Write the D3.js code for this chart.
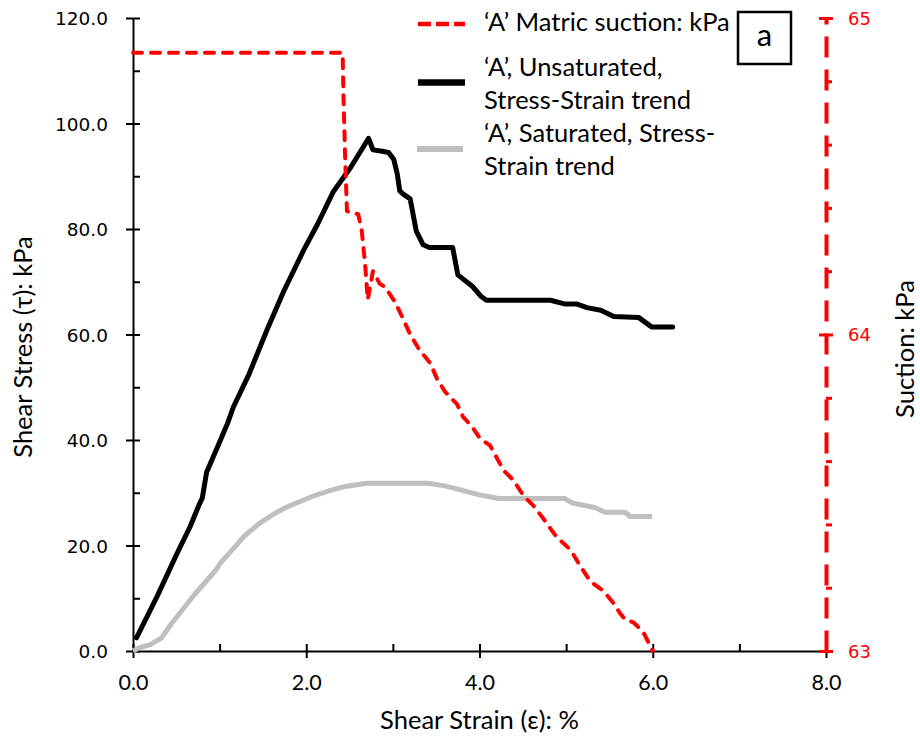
<!DOCTYPE html>
<html>
<head>
<meta charset="utf-8">
<script src="https://cdn.jsdelivr.net/npm/d3@7"></script>
<style>
  html, body { margin: 0; padding: 0; background: #fff; }
  svg { display: block; }
</style>
</head>
<body>
<svg id="chart" width="920" height="745"></svg>
<script>
// ---- Data ----
// Unsaturated stress-strain trend (strain %, shear stress kPa)
const strainUnsat = [0.04, 0.28, 0.50, 0.66, 0.76, 0.80, 0.85, 1.00, 1.09, 1.16, 1.34, 1.55, 1.74, 1.97, 2.13, 2.31, 2.51, 2.72,
  2.77, 2.86, 2.95, 3.01, 3.05, 3.08, 3.12, 3.20, 3.27, 3.35, 3.42, 3.69, 3.75, 3.92, 4.02, 4.08, 4.82, 4.98, 5.12, 5.24, 5.40,
  5.55, 5.84, 5.99, 6.23];
const stressUnsat = [2.5, 10.4, 18.2, 23.6, 27.6, 29.0, 33.9, 39.6, 43.1, 46.3, 52.5, 61.0, 68.2, 76.0, 80.9, 87.0, 91.6, 97.2,
  95.0, 94.8, 94.5, 93.2, 90.5, 87.2, 86.6, 85.7, 79.6, 77.0, 76.5, 76.5, 71.3, 69.1, 67.2, 66.5, 66.5, 65.8, 65.8, 65.1, 64.6,
  63.4, 63.2, 61.4, 61.4];

// Saturated stress-strain trend
const strainSat = [0.00, 0.07, 0.20, 0.33, 0.45, 0.72, 0.96, 1.01, 1.11, 1.28, 1.46, 1.61, 1.75, 1.88, 2.07, 2.27, 2.45, 2.70,
  3.40, 3.60, 3.77, 4.00, 4.22, 4.98, 5.08, 5.33, 5.45, 5.68, 5.74, 5.99];
const stressSat = [0.0, 0.6, 1.2, 2.5, 5.3, 10.9, 15.4, 16.7, 18.5, 21.7, 24.2, 25.8, 27.1, 28.0, 29.3, 30.4, 31.2, 31.8,
  31.8, 31.3, 30.6, 29.6, 28.9, 28.9, 28.0, 27.2, 26.3, 26.3, 25.5, 25.5];

// Matric suction (kPa, right axis)
const strainSuction = [0.00, 2.42, 2.43, 2.45, 2.47, 2.60, 2.64, 2.68, 2.71, 2.77, 2.85, 2.91, 3.03, 3.10, 3.20, 3.31, 3.43,
  3.51, 3.60, 3.74, 3.81, 3.91, 4.01, 4.12, 4.28, 4.39, 4.51, 4.62, 4.76, 4.81, 4.89, 5.05, 5.16, 5.28, 5.43, 5.55, 5.62,
  5.68, 5.78, 5.89, 6.00];
const suction = [64.89, 64.89, 64.75, 64.55, 64.39, 64.38, 64.33, 64.22, 64.11, 64.20, 64.16, 64.15, 64.10, 64.06, 64.00,
  63.95, 63.91, 63.86, 63.82, 63.78, 63.74, 63.71, 63.67, 63.65, 63.57, 63.54, 63.49, 63.46, 63.41, 63.39, 63.36, 63.32,
  63.27, 63.22, 63.19, 63.15, 63.12, 63.10, 63.09, 63.06, 63.00];

// Ticks
const strainTicks = [0, 2, 4, 6, 8];
const strainMinor = [1, 3, 5, 7];
const stressTicks = [0, 20, 40, 60, 80, 100, 120];
const stressMinor = [10, 30, 50, 70, 90, 110];
const suctionTicks = [63, 64, 65];
const suctionMinor = [63.2, 63.4, 63.6, 63.8, 64.2, 64.4, 64.6, 64.8];

// Legend text
const legendLabels = [
  ["‘A’ Matric suction: kPa"],
  ["‘A’, Unsaturated,", "Stress-Strain trend"],
  ["‘A’, Saturated, Stress-", "Strain trend"]
];
const panelLabel = "a";

// ---- Drawing ----
const CAL = "Lato, 'Open Sans', sans-serif";
const VER = "'DejaVu Sans', Verdana, sans-serif";
const RED = "#ff0000", GREY = "#bfbfbf";

const svg = d3.select("#chart");
const x = d3.scaleLinear().domain([0, 8]).range([133, 826]);
const y = d3.scaleLinear().domain([0, 120]).range([651, 18]);
const y2 = d3.scaleLinear().domain([63, 65]).range([651, 18]);

// Bottom axis
const gx = svg.append("g").attr("transform", `translate(0,${y(0)})`)
  .call(d3.axisBottom(x).tickValues(strainTicks).tickSizeInner(7).tickSizeOuter(0).tickFormat(d3.format(".1f")));
gx.select(".domain").attr("stroke", "#000").attr("stroke-width", 2);
gx.selectAll(".tick line").attr("y1", -7).attr("stroke", "#000").attr("stroke-width", 2);
gx.selectAll(".tick text").attr("y", 39).attr("dy", null)
  .attr("font-family", CAL).attr("font-size", 21.5).attr("fill", "#000");
const gxm = svg.append("g").attr("transform", `translate(0,${y(0)})`)
  .call(d3.axisBottom(x).tickValues(strainMinor).tickSizeInner(-7).tickSizeOuter(0).tickFormat(""));
gxm.select(".domain").remove();
gxm.selectAll(".tick line").attr("stroke", "#000").attr("stroke-width", 2);

// Left axis
const gy = svg.append("g").attr("transform", `translate(${x(0)},0)`)
  .call(d3.axisLeft(y).tickValues(stressTicks).tickSizeInner(7).tickSizeOuter(0).tickFormat(d3.format(".1f")));
gy.select(".domain").attr("stroke", "#000").attr("stroke-width", 2);
gy.selectAll(".tick line").attr("x1", 7).attr("stroke", "#000").attr("stroke-width", 2);
gy.selectAll(".tick text").attr("x", -25).attr("dy", "0.36em")
  .attr("font-family", VER).attr("font-size", 18.5).attr("fill", "#000");
const gym = svg.append("g").attr("transform", `translate(${x(0)},0)`)
  .call(d3.axisLeft(y).tickValues(stressMinor).tickSizeInner(-7).tickSizeOuter(0).tickFormat(""));
gym.select(".domain").remove();
gym.selectAll(".tick line").attr("stroke", "#000").attr("stroke-width", 2);

// Right axis (suction)
const gr = svg.append("g").attr("transform", `translate(${x(8)},0)`)
  .call(d3.axisRight(y2).tickValues(suctionTicks).tickSizeInner(7).tickSizeOuter(0).tickFormat(d3.format("d")));
gr.select(".domain").attr("stroke", RED).attr("stroke-width", 4).attr("stroke-dasharray", "21,12");
gr.selectAll(".tick line").attr("x1", -7).attr("stroke", RED).attr("stroke-width", 3);
gr.selectAll(".tick text").attr("x", 22).attr("dy", "0.36em")
  .attr("font-family", VER).attr("font-size", 18).attr("fill", RED);
const grm = svg.append("g").attr("transform", `translate(${x(8)},0)`)
  .call(d3.axisRight(y2).tickValues(suctionMinor).tickSizeInner(6).tickSizeOuter(0).tickFormat(""));
grm.select(".domain").remove();
grm.selectAll(".tick line").attr("stroke", RED).attr("stroke-width", 3);

// Series
const zip = (a, b) => a.map((v, i) => [v, b[i]]);
const lineL = d3.line().x(d => x(d[0])).y(d => y(d[1]));
const lineR = d3.line().x(d => x(d[0])).y(d => y2(d[1]));

svg.append("path").datum(zip(strainSat, stressSat)).attr("d", lineL)
  .attr("fill", "none").attr("stroke", GREY).attr("stroke-width", 5).attr("stroke-linejoin", "round");
svg.append("path").datum(zip(strainUnsat, stressUnsat)).attr("d", lineL)
  .attr("fill", "none").attr("stroke", "#000").attr("stroke-width", 5).attr("stroke-linejoin", "round")
  .attr("stroke-linecap", "round");
svg.append("path").datum(zip(strainSuction, suction)).attr("d", lineR)
  .attr("fill", "none").attr("stroke", RED).attr("stroke-width", 4).attr("stroke-linejoin", "round")
  .attr("stroke-linecap", "round").attr("stroke-dasharray", "9,9");

// Axis titles
svg.append("text").attr("x", x(4)).attr("y", 729).attr("text-anchor", "middle")
  .attr("font-family", CAL).attr("font-size", 25.5).attr("fill", "#000").text("Shear Strain (ε): %");
svg.append("text").attr("transform", "translate(32,347) rotate(-90)").attr("text-anchor", "middle")
  .attr("font-family", CAL).attr("font-size", 25.5).attr("fill", "#000").text("Shear Stress (τ): kPa");
svg.append("text").attr("transform", "translate(914,349) rotate(-90)").attr("text-anchor", "middle")
  .attr("font-family", CAL).attr("font-size", 25.5).attr("fill", "#000").text("Suction: kPa");

// Legend
const legend = svg.append("g");
const swatchY = [24, 82.5, 149];
const textBase = [[31], [76, 109], [142, 175]];
legend.append("line").attr("x1", 418).attr("x2", 465).attr("y1", swatchY[0]).attr("y2", swatchY[0])
  .attr("stroke", RED).attr("stroke-width", 4.5).attr("stroke-dasharray", "13,5");
legend.append("line").attr("x1", 418).attr("x2", 465).attr("y1", swatchY[1]).attr("y2", swatchY[1])
  .attr("stroke", "#000").attr("stroke-width", 6.5);
legend.append("line").attr("x1", 417).attr("x2", 463).attr("y1", swatchY[2]).attr("y2", swatchY[2])
  .attr("stroke", GREY).attr("stroke-width", 6);
legendLabels.forEach((lines, i) => {
  lines.forEach((t, j) => {
    legend.append("text").attr("x", 484).attr("y", textBase[i][j])
      .attr("font-family", CAL).attr("font-size", 25.5).attr("fill", "#000").text(t);
  });
});

// Panel label box
svg.append("rect").attr("x", 738).attr("y", 12).attr("width", 53).attr("height", 52)
  .attr("fill", "#fff").attr("stroke", "#000").attr("stroke-width", 2.5);
svg.append("text").attr("x", 764.5).attr("y", 46).attr("text-anchor", "middle")
  .attr("font-family", CAL).attr("font-size", 31).attr("fill", "#000").text(panelLabel);
</script>
</body>
</html>
